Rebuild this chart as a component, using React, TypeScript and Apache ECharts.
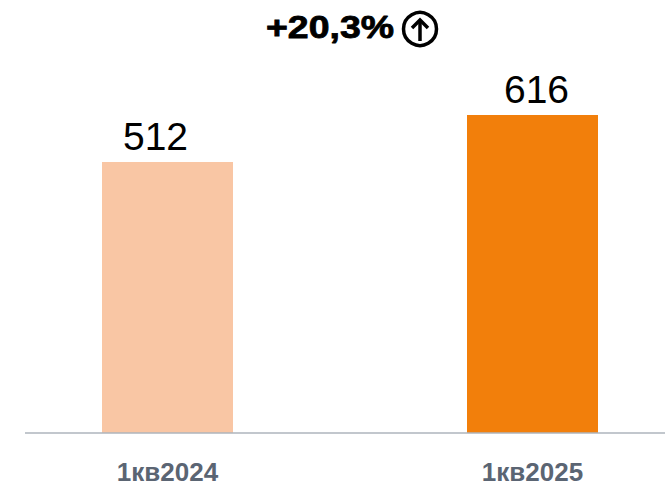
import React, { useEffect, useRef } from "react";
import * as echarts from "echarts";

const categories = ["1кв2024", "1кв2025"];
const values = [512, 616];
const barColors = ["#F9C6A4", "#F27F0B"];
const labelOffsets = [[-12, 0], [4, 0]];
const growthLabel = "+20,3%";

const FONT = "'Liberation Sans', Arial, sans-serif";

export default function App() {
  const ref = useRef<HTMLDivElement>(null);
  useEffect(() => {
    if (!ref.current) return;
    const chart = echarts.init(ref.current, null, { renderer: "svg" });
    chart.setOption({
      animation: false,
      backgroundColor: "#ffffff",
      grid: { left: -15, width: 730, top: 115, bottom: 56, outerBoundsMode: "none", containLabel: false },
      xAxis: {
        type: "category",
        data: categories,
        axisLine: { show: false },
        axisTick: { show: false },
        axisLabel: {
          color: "#5B6573",
          fontFamily: FONT,
          fontWeight: "bold",
          fontSize: 26,
          margin: 26,
        },
      },
      yAxis: {
        type: "value",
        min: -88,
        max: 616,
        startValue: -88,
        show: false,
        splitLine: { show: false },
      },
      series: [
        {
          type: "bar",
          barWidth: 131,
          data: values.map((v, i) => ({
            value: v,
            itemStyle: { color: barColors[i] },
            label: { offset: labelOffsets[i] },
          })),
          label: {
            show: true,
            position: "top",
            distance: 6,
            color: "#000000",
            fontFamily: FONT,
            fontSize: 39,
          },
        },
      ],
      graphic: [
        {
          type: "line",
          shape: { x1: 25, y1: 433, x2: 665, y2: 433 },
          style: { stroke: "#AEB5BD", lineWidth: 1.5 },
          z: 10,
        },
        {
          type: "text",
          x: 330,
          y: 27,
          scaleX: 1.17,
          style: {
            text: growthLabel,
            fill: "#000000",
            stroke: "#000000",
            lineWidth: 0.8,
            font: `bold 32px ${FONT}`,
            textAlign: "center",
            textVerticalAlign: "middle",
          },
        },
        {
          type: "circle",
          shape: { cx: 420, cy: 29, r: 16.5 },
          style: { fill: "none", stroke: "#000000", lineWidth: 3.5 },
        },
        {
          type: "line",
          shape: { x1: 420, y1: 21, x2: 420, y2: 41 },
          style: { stroke: "#000000", lineWidth: 3.5 },
        },
        {
          type: "polyline",
          shape: { points: [[412, 28], [420, 20], [428, 28]] },
          style: { stroke: "#000000", lineWidth: 3.5, fill: "none" },
        },
      ],
    });
    return () => chart.dispose();
  }, []);
  return <div ref={ref} style={{ width: 669, height: 489, position: "absolute", left: 0, top: 0 }} />;
}
